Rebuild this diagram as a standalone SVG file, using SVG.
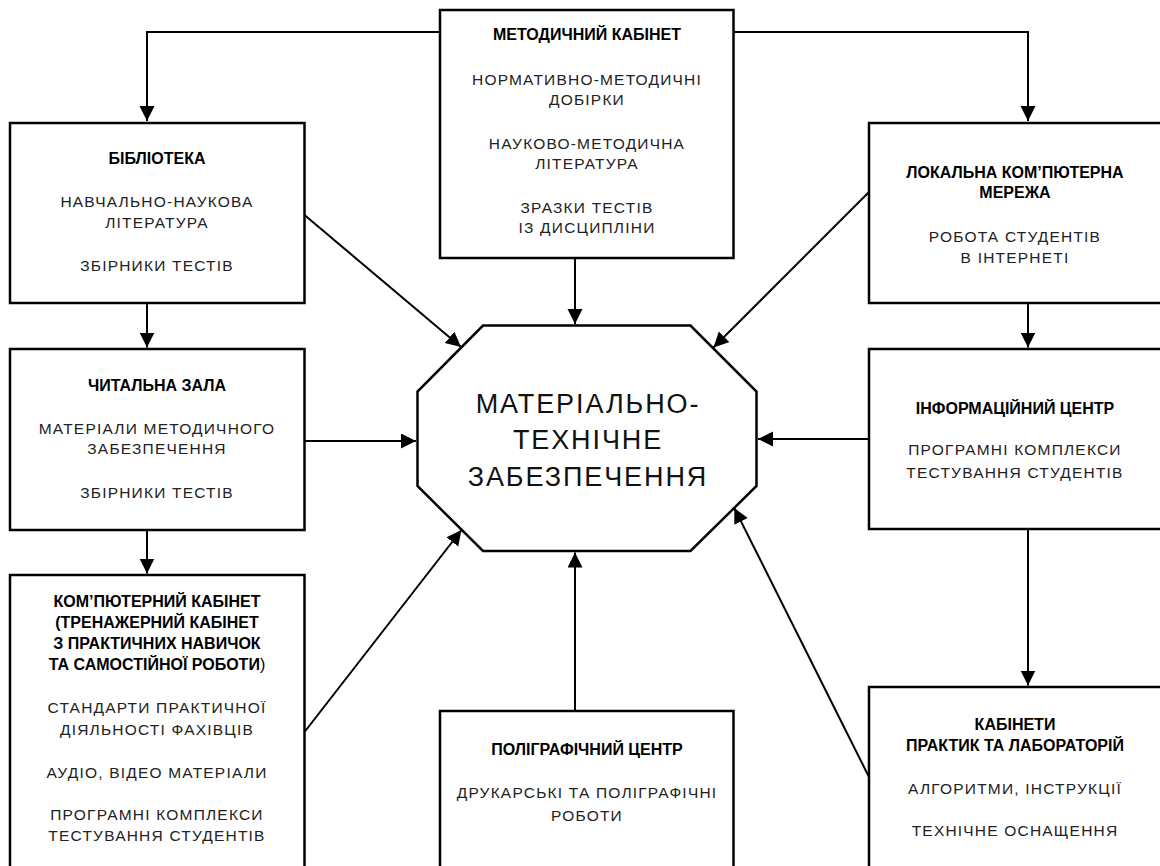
<svg xmlns="http://www.w3.org/2000/svg" width="1160" height="866" viewBox="0 0 1160 866">
<style>
.box{fill:#fff;stroke:#000;stroke-width:2.5}
.con{fill:none;stroke:#000;stroke-width:2}
text{font-family:"Liberation Sans",Arial,sans-serif;text-anchor:middle;fill:#111}
.t{font-size:16px;font-weight:bold;fill:#000}
.r{font-size:15.5px;letter-spacing:1.2px;fill:#222}
.big{font-size:27px;letter-spacing:1.9px;fill:#111}
</style>
<defs>
<marker id="ah" markerUnits="userSpaceOnUse" markerWidth="16" markerHeight="16" refX="15" refY="7.5" orient="auto">
<path d="M0,0 L15,7.5 L0,15 z" fill="#000"/>
</marker>
</defs>
<rect width="1160" height="866" fill="#fff"/>
<g id="connectors">
<path class="con" d="M440,32 H147 V121" marker-end="url(#ah)"/>
<path class="con" d="M733.5,32 H1028 V121" marker-end="url(#ah)"/>
<path class="con" d="M575,258 V324" marker-end="url(#ah)"/>
<path class="con" d="M304.5,215 L461,347" marker-end="url(#ah)"/>
<path class="con" d="M869,192 L713.5,347.5" marker-end="url(#ah)"/>
<path class="con" d="M304.5,441 L416,441" marker-end="url(#ah)"/>
<path class="con" d="M869,439 L758,439" marker-end="url(#ah)"/>
<path class="con" d="M304.5,732 L461.5,530" marker-end="url(#ah)"/>
<path class="con" d="M575,711 L575,552.5" marker-end="url(#ah)"/>
<path class="con" d="M869,777 L734.3,508" marker-end="url(#ah)"/>
<path class="con" d="M147,303 V347.5" marker-end="url(#ah)"/>
<path class="con" d="M147,530 V573.5" marker-end="url(#ah)"/>
<path class="con" d="M1028,303 V347.5" marker-end="url(#ah)"/>
<path class="con" d="M1028,529 V685.5" marker-end="url(#ah)"/>
</g>
<g id="center">
<polygon class="box" points="483,325.5 690.5,325.5 756.5,391.5 756.5,486 690.5,551 483,551 417.5,486 417.5,391.5"/>
<text class="big" x="588" y="412.7">МАТЕРІАЛЬНО-</text>
<text class="big" x="588" y="449.3">ТЕХНІЧНЕ</text>
<text class="big" x="588" y="486">ЗАБЕЗПЕЧЕННЯ</text>
</g>
<g id="metod">
<rect class="box" x="440" y="10" width="293.5" height="248"/>
<text class="t" x="587" y="40">МЕТОДИЧНИЙ КАБІНЕТ</text>
<text class="r" x="587" y="85">НОРМАТИВНО-МЕТОДИЧНІ</text>
<text class="r" x="587" y="105">ДОБІРКИ</text>
<text class="r" x="587" y="149">НАУКОВО-МЕТОДИЧНА</text>
<text class="r" x="587" y="169">ЛІТЕРАТУРА</text>
<text class="r" x="587" y="212.5">ЗРАЗКИ ТЕСТІВ</text>
<text class="r" x="587" y="233">ІЗ ДИСЦИПЛІНИ</text>
</g>
<g id="library">
<rect class="box" x="10" y="123" width="294.5" height="180"/>
<text class="t" x="157" y="164">БІБЛІОТЕКА</text>
<text class="r" x="157" y="207">НАВЧАЛЬНО-НАУКОВА</text>
<text class="r" x="157" y="228">ЛІТЕРАТУРА</text>
<text class="r" x="157" y="271">ЗБІРНИКИ ТЕСТІВ</text>
</g>
<g id="reading">
<rect class="box" x="10" y="349" width="294.5" height="181"/>
<text class="t" x="157" y="391">ЧИТАЛЬНА ЗАЛА</text>
<text class="r" x="157" y="433.5">МАТЕРІАЛИ МЕТОДИЧНОГО</text>
<text class="r" x="157" y="454">ЗАБЕЗПЕЧЕННЯ</text>
<text class="r" x="157" y="497.5">ЗБІРНИКИ ТЕСТІВ</text>
</g>
<g id="computer">
<rect class="box" x="10" y="575" width="294.5" height="320"/>
<text class="t" x="157" y="607">КОМ’ПЮТЕРНИЙ КАБІНЕТ</text>
<text class="t" x="157" y="628">(ТРЕНАЖЕРНИЙ КАБІНЕТ</text>
<text class="t" x="157" y="648.5">З ПРАКТИЧНИХ НАВИЧОК</text>
<text class="t" x="157" y="670">ТА САМОСТІЙНОЇ РОБОТИ<tspan font-weight="normal">)</tspan></text>
<text class="r" x="157" y="713">СТАНДАРТИ ПРАКТИЧНОЇ</text>
<text class="r" x="157" y="734.5">ДІЯЛЬНОСТІ ФАХІВЦІВ</text>
<text class="r" x="157" y="777.5">АУДІО, ВІДЕО МАТЕРІАЛИ</text>
<text class="r" x="157" y="820">ПРОГРАМНІ КОМПЛЕКСИ</text>
<text class="r" x="157" y="841">ТЕСТУВАННЯ СТУДЕНТІВ</text>
</g>
<g id="print">
<rect class="box" x="440" y="711" width="293.5" height="180"/>
<text class="t" x="587" y="754.5">ПОЛІГРАФІЧНИЙ ЦЕНТР</text>
<text class="r" x="587" y="797.5">ДРУКАРСЬКІ ТА ПОЛІГРАФІЧНІ</text>
<text class="r" x="587" y="821">РОБОТИ</text>
</g>
<g id="lan">
<rect class="box" x="869" y="123" width="300" height="180"/>
<text class="t" x="1015" y="177.5">ЛОКАЛЬНА КОМ’ПЮТЕРНА</text>
<text class="t" x="1015" y="198">МЕРЕЖА</text>
<text class="r" x="1015" y="241.5">РОБОТА СТУДЕНТІВ</text>
<text class="r" x="1015" y="262.5">В ІНТЕРНЕТІ</text>
</g>
<g id="info">
<rect class="box" x="869" y="349" width="300" height="180"/>
<text class="t" x="1015" y="413.5">ІНФОРМАЦІЙНИЙ ЦЕНТР</text>
<text class="r" x="1015" y="455">ПРОГРАМНІ КОМПЛЕКСИ</text>
<text class="r" x="1015" y="478">ТЕСТУВАННЯ СТУДЕНТІВ</text>
</g>
<g id="labs">
<rect class="box" x="869" y="687" width="300" height="200"/>
<text class="t" x="1015" y="729.5">КАБІНЕТИ</text>
<text class="t" x="1015" y="751">ПРАКТИК ТА ЛАБОРАТОРІЙ</text>
<text class="r" x="1015" y="794">АЛГОРИТМИ, ІНСТРУКЦІЇ</text>
<text class="r" x="1015" y="836">ТЕХНІЧНЕ ОСНАЩЕННЯ</text>
</g>
</svg>
